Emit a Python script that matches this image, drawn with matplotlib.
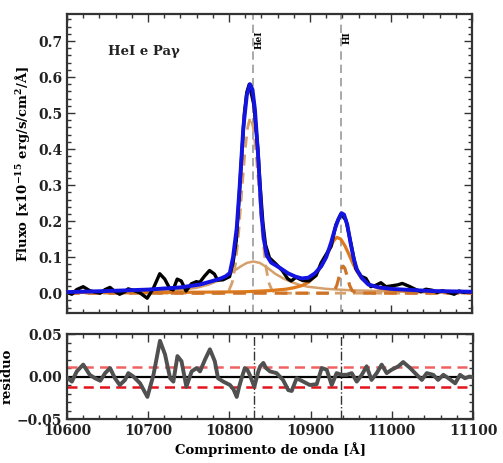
import matplotlib
matplotlib.use("Agg")
import matplotlib.pyplot as plt
from matplotlib.ticker import MultipleLocator, FixedLocator

plt.rcParams['font.family'] = ['DejaVu Serif']
plt.rcParams['font.weight'] = 'bold'
plt.rcParams['mathtext.fontset'] = 'dejavuserif'
plt.rcParams['mathtext.default'] = 'bf'
plt.rcParams['lines.solid_joinstyle'] = 'round'
plt.rcParams['lines.solid_capstyle'] = 'round'

# ---------------- data ----------------
# observed spectrum
data_wave = [10600, 10606, 10612, 10620, 10628, 10634.5, 10641, 10647, 10653, 10659, 10665,
             10671.5, 10675.5, 10681.7, 10690, 10699, 10706.5, 10714.5, 10720.7, 10727, 10731,
             10736, 10741, 10747, 10753.5, 10759.7, 10763.8, 10770, 10776, 10782, 10786,
             10792.5, 10800.7, 10805, 10809, 10812, 10815, 10819, 10822, 10825, 10830.7,
             10835.6, 10838, 10841.8, 10845, 10850, 10858, 10866, 10872.5, 10876.7, 10882.8,
             10891, 10899, 10907.5, 10913.7, 10919.8, 10926, 10932, 10938, 10944.5, 10950.6,
             10956.8, 10963, 10969, 10975, 10981.4, 10987.5, 10993.7, 10999.8, 11008, 11014,
             11022.5, 11030.7, 11037, 11043, 11051, 11057, 11063.5, 11069.7, 11078, 11084,
             11090, 11096, 11100]
data_flux = [0.002, -0.003, 0.010, 0.018, 0.007, 0.003, 0.000, 0.010, 0.016, 0.005, -0.003,
             0.004, 0.012, 0.008, 0.001, -0.014, 0.013, 0.054, 0.039, 0.012, 0.009,
             0.039, 0.034, 0.006, 0.026, 0.032, 0.030, 0.048, 0.063, 0.053, 0.036,
             0.037, 0.046, 0.085, 0.146, 0.248, 0.358, 0.500, 0.558, 0.580, 0.523,
             0.401, 0.312, 0.196, 0.135, 0.098, 0.081, 0.062, 0.040, 0.034, 0.044,
             0.035, 0.034, 0.049, 0.084, 0.107, 0.130, 0.190, 0.220, 0.202, 0.137,
             0.067, 0.047, 0.041, 0.018, 0.022, 0.029, 0.018, 0.020, 0.023, 0.027,
             0.019, 0.010, 0.004, 0.011, 0.008, 0.002, 0.007, 0.003, -0.003, 0.006,
             0.002, 0.004, 0.003]

# residual (data - model)
res_wave = data_wave
res_flux = [-0.001, -0.006, 0.006, 0.014, 0.002, -0.002, -0.005, 0.004, 0.010, -0.002, -0.010,
            -0.004, 0.004, 0.000, -0.008, -0.024, 0.002, 0.042, 0.026, -0.002, -0.006,
            0.024, 0.018, -0.012, 0.006, 0.010, 0.006, 0.020, 0.032, 0.018, -0.002,
            -0.006, -0.010, -0.015, -0.024, -0.012, -0.002, 0.010, 0.008, 0.002, -0.012,
            0.006, 0.012, 0.016, 0.010, 0.006, 0.004, -0.004, -0.016, -0.017, -0.002,
            -0.006, -0.010, -0.009, 0.010, 0.008, -0.010, 0.004, 0.002, 0.002, 0.004,
            -0.006, 0.002, 0.012, -0.004, 0.004, 0.014, 0.004, 0.008, 0.012, 0.017,
            0.010, 0.002, -0.004, 0.004, 0.002, -0.004, 0.002, -0.002, -0.008, 0.002,
            -0.002, 0.000, -0.001]

# total model
model_wave = [10600, 10650, 10700, 10740, 10764, 10780, 10790, 10796, 10801, 10805, 10809.5,
              10813, 10817.7, 10822, 10826, 10829, 10832, 10836, 10840, 10843, 10846.5,
              10852, 10863, 10873, 10882, 10890, 10898, 10906, 10914, 10920, 10926, 10931,
              10935, 10939, 10942, 10946, 10950, 10954, 10958, 10964, 10972, 10985, 11000,
              11015, 11050, 11100]
model_flux = [0.003, 0.006, 0.010, 0.016, 0.024, 0.034, 0.041, 0.047, 0.056, 0.100, 0.180,
              0.290, 0.460, 0.550, 0.580, 0.565, 0.510, 0.380, 0.220, 0.150, 0.105,
              0.085, 0.070, 0.055, 0.046, 0.041, 0.043, 0.055, 0.075, 0.100, 0.140, 0.180,
              0.205, 0.222, 0.218, 0.190, 0.140, 0.095, 0.065, 0.042, 0.024, 0.016, 0.012,
              0.010, 0.006, 0.004]

# HeI narrow component
hei_n_wave = [10600, 10795, 10800, 10804, 10808, 10812, 10816, 10820, 10823, 10826.5, 10830,
              10833, 10837, 10841, 10845, 10849, 10853, 10858, 11100]
hei_n_flux = [0.0, 0.0, 0.008, 0.030, 0.080, 0.170, 0.290, 0.400, 0.460, 0.490, 0.460,
              0.400, 0.290, 0.170, 0.080, 0.030, 0.008, 0.0, 0.0]

# HeI broad component
hei_b_wave = [10600, 10700, 10740, 10760, 10775, 10785, 10795, 10805, 10815, 10822, 10830,
              10838, 10846, 10857, 10867, 10877, 10887, 10897, 10920, 10950, 11000, 11100]
hei_b_flux = [0.002, 0.005, 0.009, 0.015, 0.024, 0.033, 0.045, 0.060, 0.075, 0.084, 0.088,
              0.084, 0.073, 0.054, 0.041, 0.031, 0.023, 0.018, 0.012, 0.008, 0.005, 0.003]

# HI (Pa gamma) broad component
hi_b_wave = [10600, 10700, 10780, 10820, 10850, 10870, 10880, 10890, 10898, 10905, 10912,
             10918, 10924, 10929, 10933, 10938, 10943, 10948, 10953, 10958, 10963, 10973,
             10983, 11003, 11033, 11100]
hi_b_flux = [0.002, 0.002, 0.003, 0.004, 0.007, 0.011, 0.015, 0.021, 0.030, 0.045, 0.068,
             0.092, 0.120, 0.145, 0.155, 0.150, 0.132, 0.108, 0.082, 0.060, 0.043, 0.024,
             0.015, 0.008, 0.004, 0.002]

# HI (Pa gamma) narrow component
hi_n_wave = [10600, 10924, 10930, 10933, 10936, 10939, 10941, 10943, 10946, 10949, 10952,
             10958, 11100]
hi_n_flux = [0.0, 0.0, 0.007, 0.021, 0.046, 0.069, 0.075, 0.069, 0.046, 0.021, 0.007,
             0.0, 0.0]

line_centers = [10830, 10938]
line_names = ['HeI', 'HI']
sigma_band = [0.011, -0.012]

# ---------------- figure ----------------
fig = plt.figure(figsize=(5.03, 4.63), dpi=100)
ax = fig.add_axes([0.1332, 0.324, 0.8052, 0.6458])
axr = fig.add_axes([0.1332, 0.095, 0.8072, 0.1836])

c_hei = '#d6a06c'
c_hi = '#de7a1c'
c_hi_d = '#cf7326'

for xc in line_centers:
    ax.axvline(xc, color='#9a9a9a', lw=1.2, ls=(0, (5, 3)), zorder=1)

ax.plot(hei_b_wave, hei_b_flux, color=c_hei, lw=1.8, zorder=2)
ax.plot(hei_n_wave, hei_n_flux, color=c_hei, lw=2.0, ls=(0, (4, 2.5)), zorder=2)
ax.plot(hi_b_wave, hi_b_flux, color=c_hi, lw=2.3, zorder=3)
ax.plot(hi_n_wave, hi_n_flux, color=c_hi_d, lw=2.3, ls=(0, (4, 2.5)), zorder=3)
ax.plot(data_wave, data_flux, color='black', lw=2.4, zorder=4)
ax.plot(model_wave, model_flux, color='#1414e0', lw=2.8, zorder=5)

for xc, nm in zip(line_centers, line_names):
    ax.text(xc + 2, 0.728, nm, rotation=90, ha='left', va='top', fontsize=6.5,
            fontweight='bold')

ax.text(10651, 0.66, 'HeI e Paγ', fontsize=9.5, fontweight='bold', ha='left',
        va='baseline', color='#222222')

ax.set_xlim(10600, 11100)
ax.set_ylim(-0.055, 0.775)
ax.xaxis.set_major_locator(MultipleLocator(100))
ax.xaxis.set_minor_locator(MultipleLocator(20))
ax.yaxis.set_major_locator(FixedLocator([0.0, 0.1, 0.2, 0.3, 0.4, 0.5, 0.6, 0.7]))
ax.yaxis.set_minor_locator(MultipleLocator(0.02))
ax.set_yticklabels(['0.0', '0.1', '0.2', '0.3', '0.4', '0.5', '0.6', '0.7'])
ax.tick_params(axis='x', labelbottom=False)
ax.set_ylabel('Fluxo [x10$^{-15}$ erg/s/cm$^{2}$/Å]', fontsize=9.5, fontweight='bold',
              labelpad=4)

# residual panel
for xc in line_centers:
    axr.axvline(xc, color='#333333', lw=1.0, ls='-.', zorder=1)
axr.axhline(0, color='black', lw=1.6, zorder=2)
axr.axhline(sigma_band[0], color='#f06262', lw=1.8, ls=(0, (4, 2.5)), zorder=2)
axr.axhline(sigma_band[1], color='#e4141c', lw=1.8, ls=(0, (4, 2.5)), zorder=2)
axr.plot(res_wave, res_flux, color='#505050', lw=2.8, zorder=3)
axr.set_xlim(10600, 11100)
axr.set_ylim(-0.05, 0.05)
axr.xaxis.set_major_locator(MultipleLocator(100))
axr.xaxis.set_minor_locator(MultipleLocator(20))
axr.yaxis.set_major_locator(FixedLocator([-0.05, 0.0, 0.05]))
axr.yaxis.set_minor_locator(MultipleLocator(0.01))
axr.set_yticklabels(['\u22120.05', '0.00', '0.05'])
axr.set_xlabel('Comprimento de onda [Å]', fontsize=9.5, fontweight='bold', labelpad=3)
axr.set_ylabel('residuo', fontsize=9.5, fontweight='bold', labelpad=2)

for a in (ax, axr):
    a.tick_params(which='both', direction='in', top=True, right=True, labelsize=10,
                  width=1.0, colors='#333333', labelcolor='#222222')
    a.tick_params(which='major', length=6)
    a.tick_params(which='minor', length=3)
    for s in a.spines.values():
        s.set_linewidth(1.6)
        s.set_color('#333333')
    for lab in a.get_xticklabels() + a.get_yticklabels():
        lab.set_fontweight('bold')

fig.savefig('out.png', dpi=100)
